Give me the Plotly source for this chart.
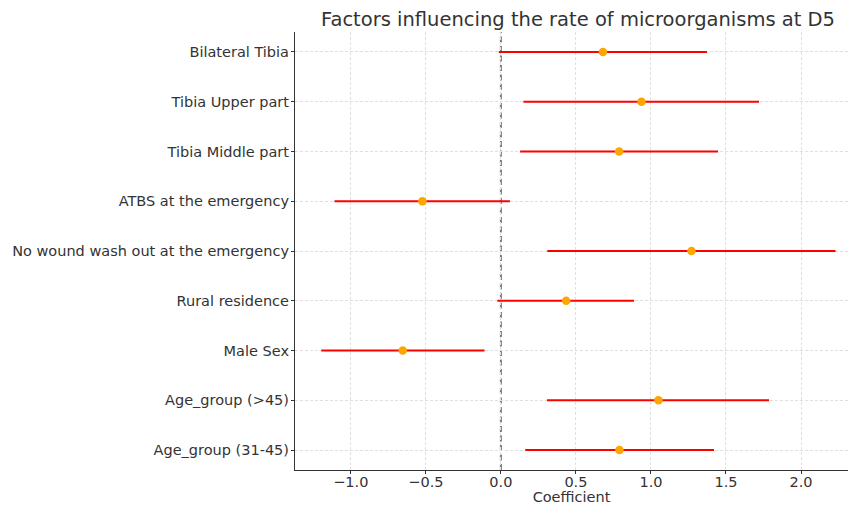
import plotly.graph_objects as go

categories = [
    "Age_group (31-45)",
    "Age_group (>45)",
    "Male Sex",
    "Rural residence",
    "No wound wash out at the emergency",
    "ATBS at the emergency",
    "Tibia Middle part",
    "Tibia Upper part",
    "Bilateral Tibia",
]
coef = [0.79, 1.05, -0.654, 0.435, 1.27, -0.523, 0.788, 0.937, 0.68]
ci_low = [0.162, 0.307, -1.197, -0.024, 0.309, -1.109, 0.128, 0.15, -0.014]
ci_high = [1.42, 1.787, -0.109, 0.887, 2.23, 0.06, 1.447, 1.72, 1.373]

err_plus = [h - c for h, c in zip(ci_high, coef)]
err_minus = [c - l for c, l in zip(coef, ci_low)]

FONT = "DejaVu Sans"
TXT = "#333333"
FS = 14.5

fig = go.Figure()
fig.add_trace(go.Scatter(
    x=coef, y=categories, mode="markers",
    marker=dict(color="#ffa500", size=8.5, line=dict(width=0)),
    error_x=dict(type="data", symmetric=False, array=err_plus, arrayminus=err_minus,
                 color="#ff0000", thickness=2, width=0),
    showlegend=False,
))

fig.add_shape(type="line", xref="x", yref="paper", x0=0, x1=0, y0=0, y1=1,
              line=dict(color="#7a7a7a", width=2, dash="6px,3.5px"), layer="between")

fig.update_layout(
    width=848, height=508,
    margin=dict(l=295, r=0, t=32, b=38),
    paper_bgcolor="white", plot_bgcolor="white",
    font=dict(family=FONT, size=FS, color=TXT),
    title=dict(text="Factors influencing the rate of microorganisms at D5",
               x=578 / 848, xref="container", xanchor="center",
               y=1 - 19 / 508, yref="container", yanchor="middle",
               font=dict(family=FONT, size=19.5, color=TXT)),
)
fig.update_xaxes(
    range=[-1.372, 2.313], dtick=0.5, tick0=0, tickformat=".1f",
    showgrid=True, gridcolor="#e0e0e0", griddash="3px,2px", gridwidth=1,
    zeroline=False, showline=True, linecolor="#333333", linewidth=1.2,
    ticks="outside", ticklen=3, tickcolor="#333333",
    ticklabelstandoff=-5,
    title=dict(text="Coefficient", font=dict(family=FONT, size=FS, color=TXT), standoff=1),
    tickfont=dict(family=FONT, size=FS, color=TXT),
)
fig.update_yaxes(
    type="category", categoryorder="array", categoryarray=categories,
    range=[-0.4, 8.4],
    showgrid=True, gridcolor="#e0e0e0", griddash="3px,2px", gridwidth=1,
    zeroline=False, showline=True, linecolor="#333333", linewidth=1.2,
    ticks="outside", ticklen=3, tickcolor="#333333",
    ticklabelstandoff=-1,
    tickfont=dict(family=FONT, size=FS, color=TXT),
)

fig.write_html("out.html")
